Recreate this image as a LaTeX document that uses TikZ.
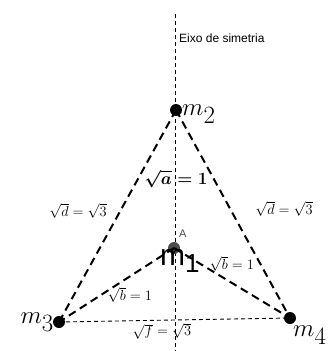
\documentclass[tikz,border=0pt]{standalone}
\usepackage{fontspec}
\newfontfamily\labsans{Liberation Sans}
\begin{document}
\begin{tikzpicture}[x=1pt,y=-1pt,
  dot/.style={circle,fill=black,inner sep=0pt,minimum size=12pt},
  thickdash/.style={line width=2pt,dash pattern=on 8pt off 5pt},
  thindash/.style={line width=0.9pt,dash pattern=on 4pt off 3pt},
  elab/.style={font=\fontsize{15.5}{15.5}\selectfont,inner sep=0pt},
  mlab/.style={font=\fontsize{34}{34}\selectfont,inner sep=0pt}]
\useasboundingbox (0,0) rectangle (331,351);
\fill[white] (0,0) rectangle (331,351);
\coordinate (axtop) at (175,14);
\coordinate (axbot) at (175,351);
\draw[thindash] (axtop) -- (axbot);
\node[dot] (m2) at (176,110) {};
\node[dot,fill=black!70] (m1) at (174,248) {};
\node[dot] (m3) at (59,322) {};
\node[dot] (m4) at (290,318) {};
\draw[thickdash] (m2.center) -- (m3.center);
\draw[thickdash] (m2.center) -- (m4.center);
\draw[thickdash] (m1.center) -- (m3.center);
\draw[thickdash] (m1.center) -- (m4.center);
\draw[thindash] (m3.center) -- (m4.center);
\node[anchor=west,inner sep=0pt,font=\labsans\fontsize{12}{12}\selectfont] (eixo) at (179,38) {Eixo de simetria};
\node[mlab,anchor=west] (l2) at (182,114) {$m_2$};
\node[mlab,anchor=east] (l3) at (54,322) {$m_3$};
\node[mlab,anchor=west] (l4) at (293,335) {$m_4$};
\node[anchor=north west,inner sep=0pt,font=\labsans\fontsize{30}{30}\selectfont] (l1) at (160,249) {m\raisebox{-7pt}{\fontsize{26}{26}\selectfont 1}};
\node[anchor=west,inner sep=0pt,font=\labsans\fontsize{11}{11}\selectfont,text=black!70] (lA) at (179,234) {A};
\node[elab,font=\fontsize{16}{16}\selectfont\boldmath] (la) at (176,179) {$\sqrt{a}=1$};
\node[elab] (ld1) at (78,211) {$\sqrt{d}=\sqrt{3}$};
\node[elab] (ld2) at (284,209) {$\sqrt{d}=\sqrt{3}$};
\node[elab] (lb1) at (232,264) {$\sqrt{b}=1$};
\node[elab] (lb2) at (130,295) {$\sqrt{b}=1$};
\node[elab] (lf) at (162,331) {$\sqrt{f}=\sqrt{3}$};
\end{tikzpicture}
\end{document}
